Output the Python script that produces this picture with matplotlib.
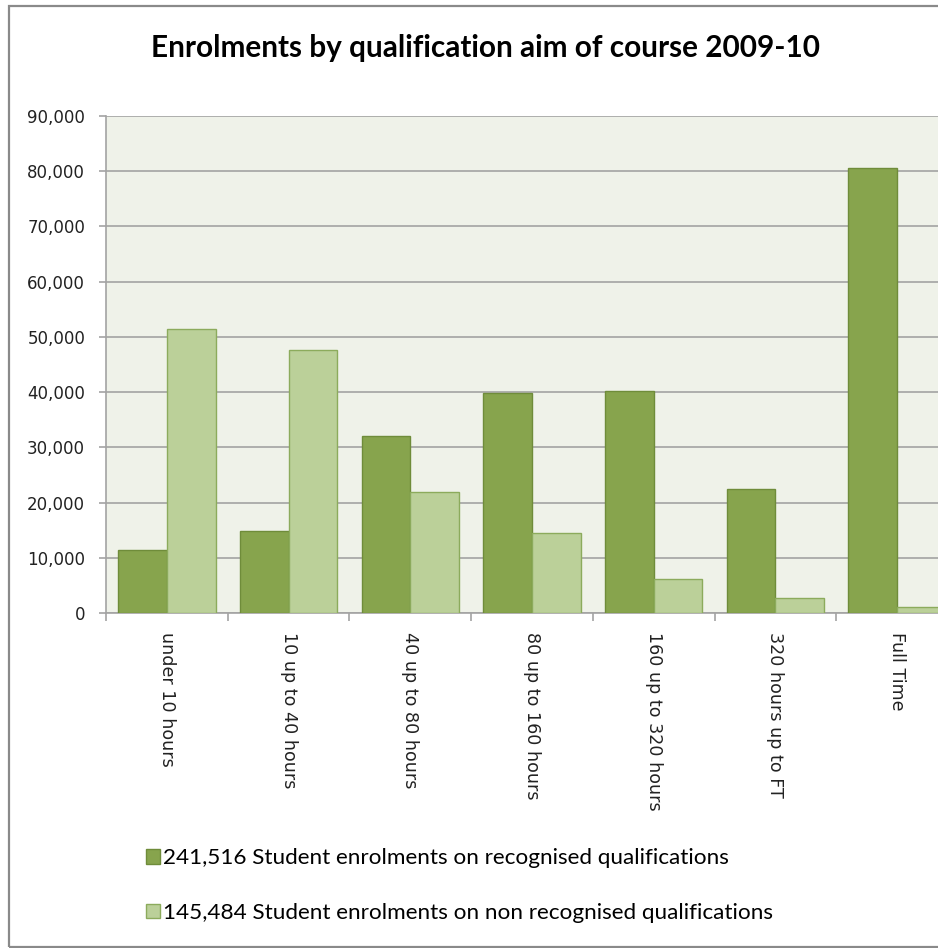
import numpy as np
import matplotlib
matplotlib.use("Agg")
import matplotlib.pyplot as plt
from matplotlib.patches import Patch, Rectangle
from matplotlib.ticker import FuncFormatter

# Enrolments per course length, 2009-10
categories = ["under 10 hours", "10 up to 40 hours", "40 up to 80 hours",
              "80 up to 160 hours", "160 up to 320 hours", "320 hours up to FT",
              "Full Time"]
recognised = [11400, 14900, 32100, 39900, 40200, 22500, 80516]
non_recognised = [51400, 47700, 21900, 14400, 6200, 2800, 1084]

dark_fill, dark_edge = "#87A44D", "#6F8C3A"
light_fill, light_edge = "#BBD099", "#8CAB5C"
grid_col = "#A3A3A3"

W, H = 938, 948
fig = plt.figure(figsize=(W / 100, H / 100), dpi=100)

# chart border (runs off the right edge)
fig.add_artist(Rectangle((8.5 / W, 1.5 / H), 1.2, 941 / H, transform=fig.transFigure,
                         fill=False, edgecolor="#8A8A8A", linewidth=1.6))

ax = fig.add_axes([106 / W, 335 / H, 852 / W, 497 / H])
ax.set_facecolor("#EFF2E9")

x = np.arange(len(categories))
w = 0.4
ax.bar(x - w / 2, recognised, w, color=dark_fill, edgecolor=dark_edge, linewidth=1.0, zorder=3)
ax.bar(x + w / 2, non_recognised, w, color=light_fill, edgecolor=light_edge, linewidth=1.0, zorder=3)

ax.set_xlim(-0.5, len(categories) - 0.5)
ax.set_ylim(0, 90000)
ax.set_yticks(np.arange(0, 90001, 10000))
ax.yaxis.set_major_formatter(FuncFormatter(lambda v, p: f"{int(v):,}"))
ax.grid(axis="y", color=grid_col, linewidth=1.2, zorder=0)

ax.set_xticks(x)
ax.set_xticklabels(categories, rotation=270, va="top", ha="center")
ax.set_xticks(np.arange(-0.5, len(categories)), minor=True)
ax.tick_params(axis="x", which="major", length=0, pad=14, labelsize=12.6, labelcolor="#222222")
ax.tick_params(axis="x", which="minor", length=6, width=1.2, color=grid_col, direction="out")
ax.tick_params(axis="y", length=5, width=1.2, color=grid_col, pad=10, labelsize=12,
               labelcolor="#222222")

for side in ["top", "right"]:
    ax.spines[side].set_visible(False)
for side in ["left", "bottom"]:
    ax.spines[side].set_color(grid_col)
    ax.spines[side].set_linewidth(1.2)

fig.text(485 / W, 1 - 48 / H, "Enrolments by qualification aim of course 2009-10",
         ha="center", va="center", fontsize=21.4, fontweight="bold", family="Lato")

handles = [Patch(facecolor=dark_fill, edgecolor=dark_edge),
           Patch(facecolor=light_fill, edgecolor=light_edge)]
labels = [f"{sum(recognised):,} Student enrolments on recognised qualifications",
          f"{sum(non_recognised):,} Student enrolments on non recognised qualifications"]
fig.legend(handles, labels, loc="upper left", bbox_to_anchor=(126 / W, 1 - 828 / H),
           frameon=False, prop={"family": "Lato", "size": 16.2}, labelspacing=1.55,
           handlelength=0.62, handleheight=0.62, handletextpad=0.12)

fig.savefig("out.png", dpi=100)
